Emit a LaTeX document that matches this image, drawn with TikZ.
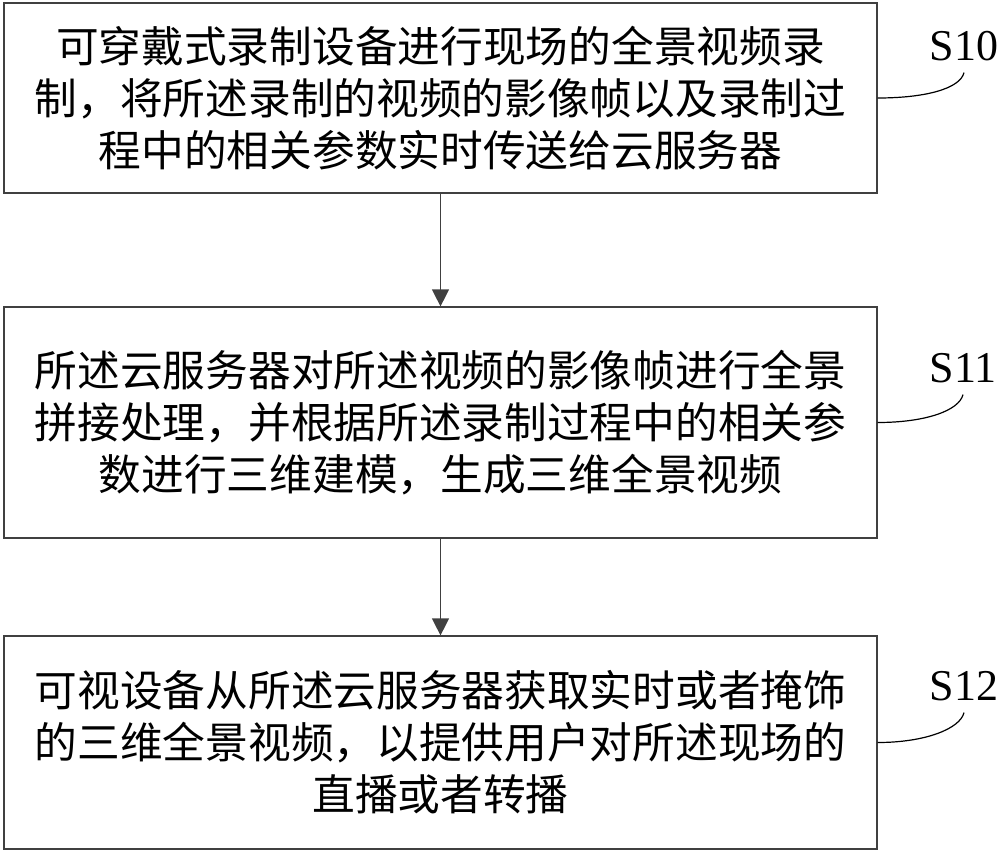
\documentclass[tikz,border=0pt]{standalone}
\usepackage{fontspec}
\setmainfont{Liberation Serif}
\newfontfamily\cjk{Noto Sans CJK SC}
\usetikzlibrary{arrows.meta}
\tikzset{stepbox/.style={draw=black!75, line width=1.2bp, minimum width=873bp, align=center, inner sep=0pt, font=\cjk\fontsize{42.7bp}{52bp}\selectfont},
         steplabel/.style={inner sep=12bp, font=\fontsize{44bp}{44bp}\selectfont},
         leader/.style={draw=black, line width=1.2bp},
         flow/.style={draw=black!75, line width=1.2bp, -{Triangle[width=17bp,length=17bp]}}}

\begin{document}
\begin{tikzpicture}[x=1bp,y=-1bp]
   \useasboundingbox (0,0) rectangle (1000,856);
   \node[stepbox, minimum height=190bp] (rec) at (440.5,98) {可穿戴式录制设备进行现场的全景视频录\\制，将所述录制的视频的影像帧以及录制过\\程中的相关参数实时传送给云服务器};
   \node[stepbox, minimum height=231bp] (cloud) at (440.5,422.5) {所述云服务器对所述视频的影像帧进行全景\\拼接处理，并根据所述录制过程中的相关参\\数进行三维建模，生成三维全景视频};
   \node[stepbox, minimum height=213bp] (view) at (440.5,742.5) {可视设备从所述云服务器获取实时或者掩饰\\的三维全景视频，以提供用户对所述现场的\\直播或者转播};
   \node[steplabel, anchor=base] (s10) at (964,60) {S10};
   \node[steplabel, anchor=base] (s11) at (963,382) {S11};
   \node[steplabel, anchor=base] (s12) at (964,700) {S12};
   \draw[flow] (rec) -- (cloud);
   \draw[flow] (cloud) -- (view);
   \draw[leader] (rec.east) .. controls +(48,0) and +(-4,16) .. (s10.south);
   \draw[leader] (cloud.east) .. controls +(48,0) and +(-4,16) .. (s11.south);
   \draw[leader] (view.east) .. controls +(48,0) and +(-4,16) .. (s12.south);
\end{tikzpicture}
\end{document}
